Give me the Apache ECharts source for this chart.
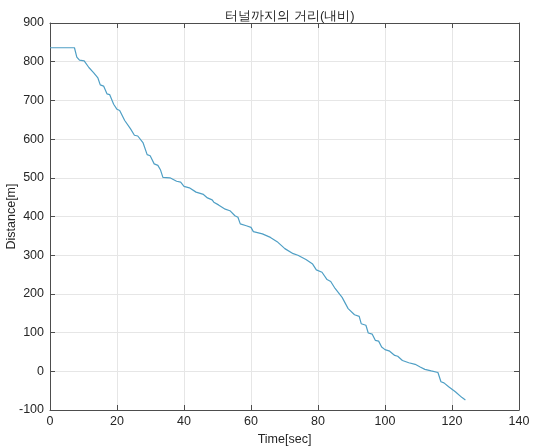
<!DOCTYPE html>
<html><head><meta charset="utf-8">
<script src="https://cdn.jsdelivr.net/npm/echarts@6/dist/echarts.min.js"></script>
<style>html,body{margin:0;padding:0;background:#fff}#c{width:541px;height:448px}</style>
</head><body><div id="c"></div>
<script>
const chartTitle = '터널까지의 거리(내비)';
const xName = 'Time[sec]';
const yName = 'Distance[m]';
const timeSec = [0,7.3,8,8.8,10.2,11.6,13,14.3,15,16,17,17.8,19,20,20.8,22.3,24,25.2,26.2,27.8,29,29.9,31.1,32.2,33.0,33.7,35.8,37.8,39,40,41.6,43.6,45.8,47,48.4,48.9,50.3,52.3,53.7,55.2,56.1,56.8,58.6,60,60.7,63.4,65.8,67.8,70.1,72.6,74,76.4,78.4,79.5,81.2,82.7,83.8,85.1,87.2,89,90.9,92.3,92.9,94.3,95,96.2,97.1,98.1,99,100,101.4,102.9,103.8,105.2,107.1,109,110.5,111.9,113.8,115.8,116.7,117.6,119,121,123,124];
const distance = [836,836,812,804,802,785,772,758,740,737,717,715,690,677,674,648,627,610,608,590,560,557,536,532,520,501,500,491,489,478,474,463,457,448,443,437,430,419,415,402,398,381,376,372,361,355,346,335,317,304,300,289,277,262,256,237,232,214,191,162,146,142,123,119,99,96,80,78,63,56,52,41,39,28,22,18,11,5,1,-3,-27,-30,-40,-53,-68,-74];
const xTicks = {min:0,max:140,interval:20};
const yTicks = {min:-100,max:900,interval:100};

const font = 'Liberation Sans, Arial, sans-serif';
const axisCol = '#4d4d4d';
const chart = echarts.init(document.getElementById('c'));
const common = {
  axisLine:{show:true,onZero:false,lineStyle:{color:axisCol,width:1}},
  axisTick:{show:true,inside:true,length:5,lineStyle:{color:axisCol}},
};
chart.setOption({
  animation:false,
  backgroundColor:'#fff',
  title:{text:chartTitle,left:285,top:5,textAlign:'center',textStyle:{fontFamily:font,fontSize:13,fontWeight:'normal',color:'#262626'}},
  grid:{left:50,right:22,top:23,bottom:38,containLabel:false,outerBoundsMode:'none'},
  xAxis:[{type:'value',min:xTicks.min,max:xTicks.max,interval:xTicks.interval,position:'bottom',
    name:xName,nameLocation:'middle',nameGap:23,nameMoveOverlap:false,nameTextStyle:{fontFamily:font,fontSize:12.5,color:'#262626'},
    axisLabel:{fontFamily:font,fontSize:12.5,color:'#262626',margin:5},
    splitLine:{show:true,lineStyle:{color:'#e6e6e6',width:1}},...common},
    {type:'value',min:xTicks.min,max:xTicks.max,interval:xTicks.interval,position:'top',axisLabel:{show:false},splitLine:{show:false},...common}],
  yAxis:[{type:'value',min:yTicks.min,max:yTicks.max,interval:yTicks.interval,position:'left',
    name:yName,nameLocation:'middle',nameGap:38,nameRotate:90,nameMoveOverlap:false,nameTextStyle:{fontFamily:font,fontSize:12.5,color:'#262626',verticalAlign:'middle'},
    axisLabel:{fontFamily:font,fontSize:12.5,color:'#262626',margin:6},
    splitLine:{show:true,lineStyle:{color:'#e6e6e6',width:1}},...common},
    {type:'value',min:yTicks.min,max:yTicks.max,interval:yTicks.interval,position:'right',axisLabel:{show:false},splitLine:{show:false},...common}],
  series:[{type:'line',data:timeSec.map((t,i)=>[t,distance[i]]),showSymbol:false,symbol:'none',
    lineStyle:{color:'#4f9fc5',width:1.2}}]
});
</script></body></html>
